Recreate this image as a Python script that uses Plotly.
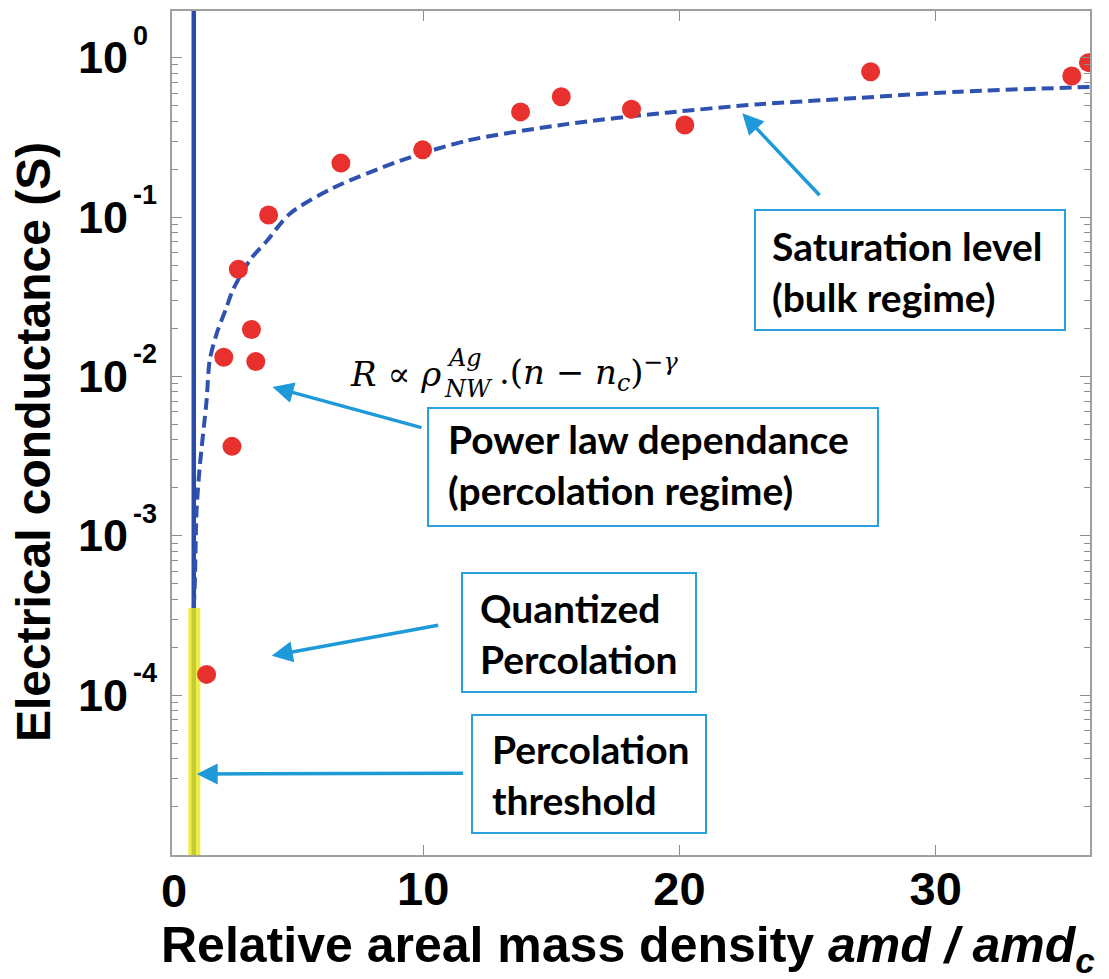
import math
import plotly.graph_objects as go

# ---------------- data ----------------
amd_ratio = [1.55, 2.22, 2.54, 2.79, 3.30, 3.47, 3.97, 6.79, 9.98, 13.80,
             15.39, 18.13, 20.21, 27.46, 35.31, 35.96]
conductance = [1.35e-4, 0.0132, 0.00364, 0.0470, 0.0197, 0.0124, 0.103,
               0.218, 0.264, 0.457, 0.568, 0.475, 0.378, 0.817, 0.767, 0.931]

fit_x = [1.05, 1.09, 1.16, 1.28, 1.55, 1.67, 1.94, 2.33, 2.57, 3.24, 3.90,
         4.80, 6.48, 9.09, 11.69, 15.6, 19.5, 23.14, 25.75, 30.95, 36.0]
fit_y = [3.55e-4, 5.0e-4, 1.45e-3, 2.69e-3, 7.08e-3, 0.0126, 0.0185, 0.0272,
         0.0347, 0.0537, 0.0708, 0.105, 0.152, 0.225, 0.301, 0.383, 0.452,
         0.511, 0.543, 0.612, 0.655]

threshold_x = [1.05, 1.05]
threshold_y = [10.0, 1e-6]
quantized_x = [1.07, 1.07]
quantized_y = [3.52e-4, 1e-6]

x_tickvals = [10, 20, 30]
x_ticktext = ["10", "20", "30"]
y_tickvals = [1e-4, 1e-3, 1e-2, 1e-1, 1]
y_tick_base = ["10", "10", "10", "10", "10"]
y_tick_exp = ["-4", "-3", "-2", "-1", "0"]

# ---------------- layout geometry ----------------
W, H = 1109, 979
L, R, T, B = 172, 19, 11, 124
PW, PH = W - L - R, H - T - B


def px(xp):
    return (xp - L) / PW


def py(yp):
    return (H - B - yp) / PH


BLUE_ARROW = "#1f9ad8"
BOX_FONT = dict(family="Lato", size=39, color="black", weight="bold")
AX_FONT = dict(family="Liberation Sans", color="black", weight="bold")

fig = go.Figure()

fig.add_trace(go.Scatter(x=threshold_x, y=threshold_y, mode="lines",
                         line=dict(color="#2b4ba8", width=4.5),
                         showlegend=False, hoverinfo="skip"))
fig.add_trace(go.Scatter(x=fit_x, y=fit_y, mode="lines",
                         line=dict(color="#2f52b0", width=4, dash="12px,6px",
                                   shape="spline", smoothing=0.8),
                         showlegend=False))
fig.add_trace(go.Scatter(x=quantized_x, y=quantized_y, mode="lines",
                         line=dict(color="rgb(235,235,25)", width=12),
                         opacity=0.8, showlegend=False, hoverinfo="skip"))
fig.add_trace(go.Scatter(x=amd_ratio, y=conductance, mode="markers",
                         marker=dict(color="#e8312f", size=19, line=dict(width=0)),
                         showlegend=False))

annotations = []
shapes = []

# boxes with text
boxes = [
    ((755, 210, 1065, 330), 770, 271.5, "Saturation level<br>(bulk regime)"),
    ((428, 408, 878, 526), 446, 465, "Power law dependance<br>(percolation regime)"),
    ((462, 573, 696, 692), 478, 633, "Quantized<br>Percolation"),
    ((472, 715, 706, 833), 490, 774.5, "Percolation<br>threshold"),
]
for (x0, y0, x1, y1), tx, ty, txt in boxes:
    shapes.append(dict(type="rect", xref="paper", yref="paper",
                       x0=px(x0), x1=px(x1), y0=py(y1), y1=py(y0),
                       line=dict(color="#2aa0de", width=2),
                       fillcolor="white", layer="above"))
    annotations.append(dict(xref="paper", yref="paper", x=px(tx), y=py(ty),
                            xanchor="left", yanchor="middle", align="left",
                            text=txt, showarrow=False, font=BOX_FONT))

# arrows (head, tail) in pixels
arrows = [
    ((742.3, 113.3), (821, 196.7)),
    ((272.5, 387), (423, 428)),
    ((271.7, 655.7), (439.7, 625)),
    ((196.7, 774), (464.6, 773.3)),
]
for (hx, hy), (tx, ty) in arrows:
    annotations.append(dict(xref="paper", yref="paper", x=px(hx), y=py(hy),
                            ax=tx - hx, ay=ty - hy, axref="pixel", ayref="pixel",
                            text="", showarrow=True, arrowhead=2, arrowsize=1.2,
                            arrowwidth=3.5, arrowcolor=BLUE_ARROW, standoff=0))

# formula
SERIF = "DejaVu Serif"
annotations += [
    dict(xref="paper", yref="paper", x=px(348), y=py(374), xanchor="left",
         yanchor="middle", showarrow=False,
         text="<i>R</i> ∝ <i>ρ</i>", font=dict(family=SERIF, size=34, color="black")),
    dict(xref="paper", yref="paper", x=px(445), y=py(358), xanchor="left",
         yanchor="middle", showarrow=False,
         text="<i>Ag</i>", font=dict(family=SERIF, size=24, color="black")),
    dict(xref="paper", yref="paper", x=px(442), y=py(389), xanchor="left",
         yanchor="middle", showarrow=False,
         text="<i>NW</i>", font=dict(family=SERIF, size=24, color="black")),
    dict(xref="paper", yref="paper", x=px(497), y=py(372), xanchor="left",
         yanchor="middle", showarrow=False,
         text=".(<i>n</i> − <i>n</i><sub><i>c</i></sub>)<sup>−<i>γ</i></sup>",
         font=dict(family=SERIF, size=34, color="black")),
]

# y tick labels (base + exponent), drawn on the y axis scale
for v, base, ex in zip(y_tickvals, y_tick_base, y_tick_exp):
    annotations.append(dict(xref="paper", yref="y", x=px(76), y=math.log10(v),
                            xanchor="left", yanchor="middle", showarrow=False,
                            text=base, font=dict(size=45, **AX_FONT)))
    annotations.append(dict(xref="paper", yref="y", x=px(131), y=math.log10(v),
                            yshift=22, xanchor="left", yanchor="middle",
                            showarrow=False, text=ex,
                            font=dict(size=27, **AX_FONT)))

# axis titles and the "0" tick label
annotations += [
    dict(xref="paper", yref="paper", x=px(628), y=py(948), xanchor="center",
         yanchor="middle", showarrow=False,
         text="Relative areal mass density <i>amd / amd<sub>c</sub></i>",
         font=dict(size=50, **AX_FONT)),
    dict(xref="paper", yref="paper", x=px(33), y=py(442), xanchor="center",
         yanchor="middle", showarrow=False, textangle=-90,
         text="Electrical conductance (S)", font=dict(size=48, **AX_FONT)),
    dict(xref="paper", yref="paper", x=px(174), y=py(890), xanchor="center",
         yanchor="middle", showarrow=False, text="0",
         font=dict(size=47, **AX_FONT)),
]

minor_vals = [m * 10 ** e for e in range(-5, 1) for m in range(2, 10)]

fig.update_layout(
    width=W, height=H,
    margin=dict(l=L, r=R, t=T, b=B, autoexpand=False),
    paper_bgcolor="white", plot_bgcolor="white",
    showlegend=False,
    xaxis=dict(range=[0.2, 36.02], tickvals=x_tickvals, ticktext=x_ticktext,
               ticks="inside", ticklen=10, tickwidth=1.2, tickcolor="#8c8c8c",
               showline=True, linecolor="#a0a0a0", linewidth=1.5, mirror="ticks",
               showgrid=False, zeroline=False, ticklabelstandoff=-8,
               tickfont=dict(size=47, **AX_FONT)),
    yaxis=dict(type="log", range=[-5.003, 0.293], tickvals=y_tickvals,
               showticklabels=False, ticks="inside", ticklen=10, tickwidth=1.2,
               tickcolor="#8c8c8c", showline=True, linecolor="#a0a0a0",
               linewidth=1.5, mirror="ticks", showgrid=False, zeroline=False,
               minor=dict(tickvals=minor_vals, ticks="inside", ticklen=6,
                          tickcolor="#8c8c8c", tickwidth=1, showgrid=False)),
    annotations=annotations,
    shapes=shapes,
)

fig.write_html("out.html", config={"displayModeBar": False},
               post_script="document.body.style.margin='0';")
